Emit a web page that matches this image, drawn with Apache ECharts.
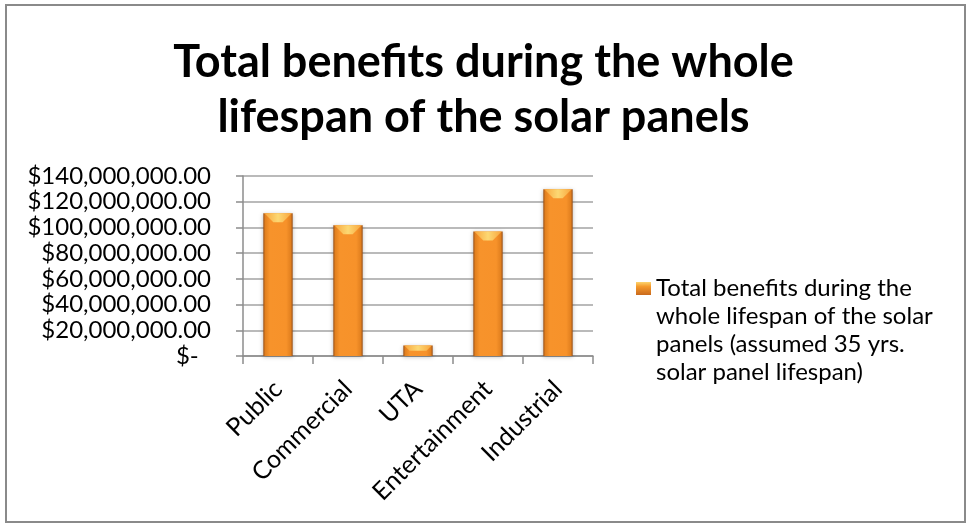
<!DOCTYPE html>
<html>
<head>
<meta charset="utf-8">
<script src="https://cdn.jsdelivr.net/npm/echarts@6/dist/echarts.min.js"></script>
<style>
  html, body { margin: 0; padding: 0; background: #ffffff; }
  #chart { width: 967px; height: 525px; }
</style>
</head>
<body>
<div id="chart"></div>
<script>
// Sectors and their total benefit over the panels' lifespan (USD)
const categories = ['Public', 'Commercial', 'UTA', 'Entertainment', 'Industrial'];
const benefits = [111000000, 101600000, 8200000, 96900000, 129600000];

// Value axis ticks and their accounting-style labels
const yTickValues = [0, 20000000, 40000000, 60000000, 80000000, 100000000, 120000000, 140000000];
const yTickLabels = ['$-  ', '$20,000,000.00', '$40,000,000.00', '$60,000,000.00',
  '$80,000,000.00', '$100,000,000.00', '$120,000,000.00', '$140,000,000.00'];

const titleLines = ['Total benefits during the whole', 'lifespan of the solar panels'];
const seriesName = 'Total benefits during the whole lifespan of the solar panels (assumed 35 yrs. solar panel lifespan)';
const legendLines = ['Total benefits during the', 'whole lifespan of the solar', 'panels (assumed 35 yrs.', 'solar panel lifespan)'];

const FONT = 'Lato, "Open Sans", sans-serif';
const BAR_RATIO = 0.42;
const LEGEND_LINE = 28;

const bodyFill = new echarts.graphic.LinearGradient(0, 0, 1, 0, [
  { offset: 0, color: '#9c5218' },
  { offset: 0.07, color: '#e2801f' },
  { offset: 0.22, color: '#f7932b' },
  { offset: 0.78, color: '#f7922a' },
  { offset: 0.93, color: '#e2801f' },
  { offset: 1, color: '#9c5218' }
]);
const capFill = new echarts.graphic.LinearGradient(0, 0, 1, 0, [
  { offset: 0, color: '#f9a53c' },
  { offset: 0.5, color: '#fcd873' },
  { offset: 1, color: '#f9a53c' }
]);
const legendFill = new echarts.graphic.LinearGradient(0, 0, 0, 1, [
  { offset: 0, color: '#fcd46e' },
  { offset: 0.35, color: '#f59a2c' },
  { offset: 1, color: '#c9691c' }
]);

// The legend text is centred on its icon; blank lines above the wrapped name
// keep the first line level with the icon.
const legendPad = legendLines.length - 1;
const legendText = '\n'.repeat(legendPad) + legendLines.join('\n');

const chart = echarts.init(document.getElementById('chart'));

chart.setOption({
  animation: false,
  backgroundColor: '#ffffff',
  title: {
    text: titleLines.join('\n'),
    left: 'center',
    top: 30,
    textStyle: {
      fontFamily: FONT,
      fontSize: 45,
      fontWeight: 'bold',
      lineHeight: 55,
      color: '#000000'
    }
  },
  graphic: [{
    type: 'rect',
    silent: true,
    shape: { x: 6, y: 5, width: 959, height: 517 },
    style: { fill: 'none', stroke: '#8a8a8a', lineWidth: 2 }
  }],
  legend: {
    orient: 'vertical',
    padding: 0,
    left: 636,
    top: 282 + 6.5 - LEGEND_LINE * (legendPad + 0.5),
    itemWidth: 15,
    itemHeight: 13,
    icon: 'rect',
    selectedMode: false,
    data: [{ name: seriesName, itemStyle: { color: legendFill } }],
    formatter: () => legendText,
    textStyle: {
      fontFamily: FONT,
      fontSize: 24,
      lineHeight: LEGEND_LINE,
      color: '#000000'
    }
  },
  grid: {
    left: 243,
    right: 374,
    top: 176,
    bottom: 169
  },
  xAxis: {
    type: 'category',
    data: categories,
    axisLine: { lineStyle: { color: '#8c8c8c', width: 1.5 } },
    axisTick: { show: true, length: 8, lineStyle: { color: '#8c8c8c', width: 1.5 } },
    axisLabel: {
      interval: 0,
      rotate: 45,
      margin: 29,
      fontFamily: FONT,
      fontSize: 25,
      color: '#000000'
    }
  },
  yAxis: {
    type: 'value',
    min: 0,
    max: 140000000,
    interval: 20000000,
    axisLine: { show: true, lineStyle: { color: '#8c8c8c', width: 1.5 } },
    axisTick: { show: true, length: 7, lineStyle: { color: '#8c8c8c', width: 1.5 } },
    splitLine: { lineStyle: { color: '#a3a3a3', width: 1.5 } },
    axisLabel: {
      margin: 32,
      fontFamily: FONT,
      fontSize: 24,
      color: '#000000',
      formatter: (v) => {
        const i = yTickValues.indexOf(v);
        return i >= 0 ? yTickLabels[i] : '';
      }
    }
  },
  series: [
    {
      name: seriesName,
      type: 'bar',
      data: benefits,
      barWidth: (BAR_RATIO * 100) + '%',
      itemStyle: {
        color: bodyFill,
        shadowColor: 'rgba(0,0,0,0.25)',
        shadowBlur: 4,
        shadowOffsetY: 1
      }
    },
    {
      // bevelled top face of each bar
      type: 'custom',
      silent: true,
      z: 3,
      data: benefits.map((v, i) => [i, v]),
      renderItem: (params, api) => {
        const top = api.coord([api.value(0), api.value(1)]);
        const base = api.coord([api.value(0), 0]);
        const bw = api.size([1, 0])[0] * BAR_RATIO;
        const x0 = top[0] - bw / 2 + 1;
        const x1 = top[0] + bw / 2 - 1;
        const b = Math.min(9, (base[1] - top[1]) / 2);
        return {
          type: 'polygon',
          shape: {
            points: [[x0, top[1]], [x1, top[1]], [x1 - b, top[1] + b], [x0 + b, top[1] + b]]
          },
          style: { fill: capFill }
        };
      }
    }
  ]
});
</script>
</body>
</html>
